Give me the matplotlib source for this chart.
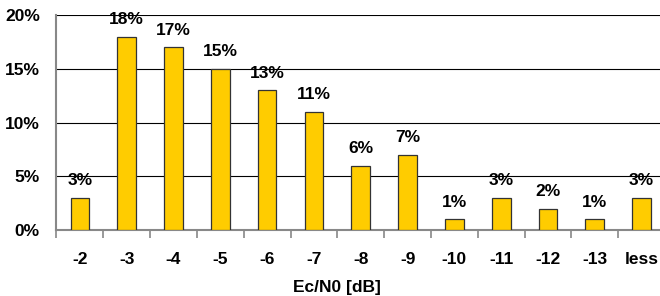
import matplotlib.pyplot as plt
from matplotlib.ticker import FixedLocator, PercentFormatter

plt.rcParams['font.family'] = ['Liberation Sans', 'DejaVu Sans']

categories = ['-2', '-3', '-4', '-5', '-6', '-7', '-8', '-9', '-10', '-11', '-12', '-13', 'less']
values = [3, 18, 17, 15, 13, 11, 6, 7, 1, 3, 2, 1, 3]

fig = plt.figure(figsize=(6.6, 2.96), dpi=100)
ax = fig.add_axes([0.0856, 0.223, 0.922, 0.726])

x = range(len(categories))
ax.bar(x, values, width=0.4, color='#FFCC00', edgecolor='#333333', linewidth=0.9, zorder=3)

for i, v in zip(x, values):
    ax.text(i, v + 0.9, str(v) + '%', ha='center', va='bottom', fontsize=12.5, fontweight='bold')

ax.set_xlim(-0.5, len(categories) - 0.5)
ax.set_ylim(0, 20)
ax.set_yticks([0, 5, 10, 15, 20])
ax.yaxis.set_major_formatter(PercentFormatter(decimals=0))
ax.yaxis.grid(True, color='black', linewidth=0.8, zorder=0)

ax.set_xticks(list(x))
ax.set_xticklabels(categories, fontsize=12.5, fontweight='bold')
ax.xaxis.set_minor_locator(FixedLocator([i + 0.5 for i in range(-1, len(categories))]))
ax.tick_params(axis='x', which='major', length=0, pad=16)
ax.tick_params(axis='x', which='minor', length=6, color='#888888', width=1.2)
ax.tick_params(axis='y', length=0, pad=12, labelsize=12.5)
for lab in ax.get_yticklabels():
    lab.set_fontweight('bold')

for s in ['top', 'right']:
    ax.spines[s].set_visible(False)
ax.spines['left'].set_color('#888888')
ax.spines['left'].set_linewidth(1.5)
ax.spines['bottom'].set_color('#888888')
ax.spines['bottom'].set_linewidth(1.5)

fig.text(337 / 660, 0.03, 'Ec/N0 [dB]', ha='center', va='center', fontsize=12.5, fontweight='bold')

fig.savefig('out.png', dpi=100)
